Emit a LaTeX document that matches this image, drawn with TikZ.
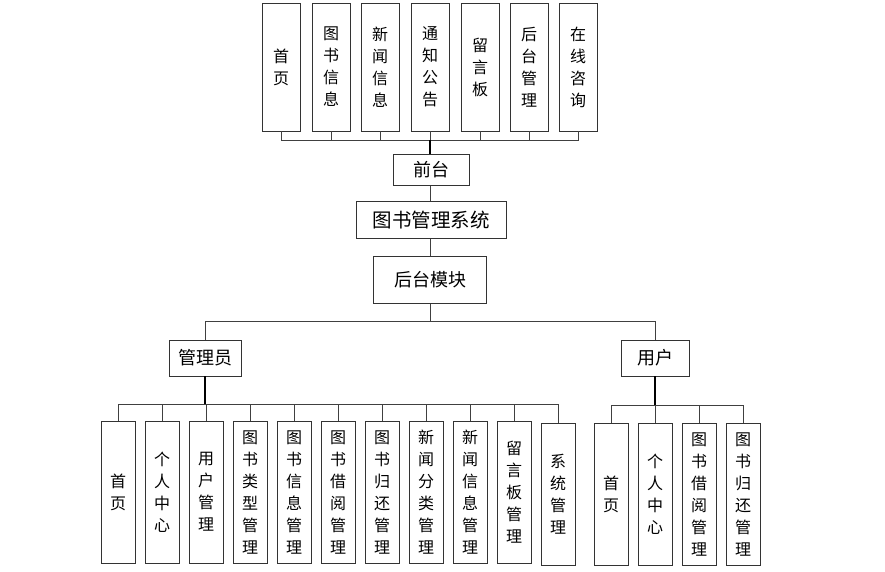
\documentclass[tikz,border=0pt]{standalone}
\usepackage{fontspec}
\newfontfamily\cjk{Noto Sans CJK SC}
\usepackage{tikz}
\usetikzlibrary{positioning,calc}

\begin{document}
\begin{tikzpicture}[
        x=1pt, y=-1pt,
        font=\cjk,
        % Block styles
        tallbox/.style={
            rectangle,
            draw=black!80,
            thick,
            inner sep=0pt,
            minimum width=#1,
            align=center,
            font=\cjk\fontsize{16}{22}\selectfont
        },
        topbox/.style={tallbox=38pt, minimum height=128pt},
        subbox/.style={tallbox=34pt, minimum height=142pt},
        headbox/.style={
            rectangle,
            draw=black!80,
            thick,
            inner sep=0pt,
            align=center,
            font=\cjk\fontsize{18}{20}\selectfont
        },
        link/.style={draw=black!75, line width=0.8pt},
        trunk/.style={draw=black, line width=1.6pt}
    ]
    \useasboundingbox (0,0) rectangle (885,571);

    % Front pages
    \node[topbox] (fhome) at (281,67) {首\\页};
    \node[topbox] (fbook) at (331,67) {图\\书\\信\\息};
    \node[topbox] (fnews) at (380,67) {新\\闻\\信\\息};
    \node[topbox] (fnotice) at (430,67) {通\\知\\公\\告};
    \node[topbox] (fboard) at (480,67) {留\\言\\板};
    \node[topbox] (fadmin) at (529,67) {后\\台\\管\\理};
    \node[topbox] (fchat) at (578,67) {在\\线\\咨\\询};

    % Main chain
    \node[headbox, minimum width=76pt, minimum height=31pt] (front) at (431,170) {前台};
    \node[headbox, minimum width=150pt, minimum height=37pt, font=\cjk\fontsize{19.5}{22}\selectfont] (system) at (431,220) {图书管理系统};
    \node[headbox, minimum width=113pt, minimum height=47pt] (back) at (430,280) {后台模块};

    % Roles
    \node[headbox, minimum width=72pt, minimum height=36pt] (admin) at (205,358) {管理员};
    \node[headbox, minimum width=68pt, minimum height=36pt] (user) at (655,358) {用户};

    % Admin pages
    \node[subbox] (ahome) at (118,492) {首\\页};
    \node[subbox] (acenter) at (162,492) {个\\人\\中\\心};
    \node[subbox] (auser) at (206,492) {用\\户\\管\\理};
    \node[subbox] (atype) at (250,492) {图\\书\\类\\型\\管\\理};
    \node[subbox] (abook) at (294,492) {图\\书\\信\\息\\管\\理};
    \node[subbox] (aborrow) at (338,492) {图\\书\\借\\阅\\管\\理};
    \node[subbox] (areturn) at (382,492) {图\\书\\归\\还\\管\\理};
    \node[subbox] (anewstype) at (426,492) {新\\闻\\分\\类\\管\\理};
    \node[subbox] (anews) at (470,492) {新\\闻\\信\\息\\管\\理};
    \node[subbox] (aboard) at (514,492) {留\\言\\板\\管\\理};
    \node[subbox] (asys) at (558,494) {系\\统\\管\\理};

    % User pages
    \node[subbox] (uhome) at (611,494) {首\\页};
    \node[subbox] (ucenter) at (655,494) {个\\人\\中\\心};
    \node[subbox] (uborrow) at (699,494) {图\\书\\借\\阅\\管\\理};
    \node[subbox] (ureturn) at (743,494) {图\\书\\归\\还\\管\\理};

    % Bus points
    \coordinate (busF) at (430,140);
    \coordinate (busB) at (430,321);
    \coordinate (busA) at (205,404);
    \coordinate (busU) at (655,405);

    % Connections
    \draw[link] (fhome.south) |- (busF);
    \draw[link] (fbook.south) |- (busF);
    \draw[link] (fnews.south) |- (busF);
    \draw[link] (fnotice.south) |- (busF);
    \draw[link] (fboard.south) |- (busF);
    \draw[link] (fadmin.south) |- (busF);
    \draw[link] (fchat.south) |- (busF);
    \draw[trunk] (busF) -- (front.north -| busF);

    \draw[link] (front.south -| busF) -- (system.north -| busF);
    \draw[link] (system.south -| busF) -- (back.north -| busF);
    \draw[link] (back.south -| busF) -- (busB);
    \draw[link] (busB) -| (admin.north);
    \draw[link] (busB) -| (user.north);

    \draw[link] (ahome.north) |- (busA);
    \draw[link] (acenter.north) |- (busA);
    \draw[link] (auser.north) |- (busA);
    \draw[link] (atype.north) |- (busA);
    \draw[link] (abook.north) |- (busA);
    \draw[link] (aborrow.north) |- (busA);
    \draw[link] (areturn.north) |- (busA);
    \draw[link] (anewstype.north) |- (busA);
    \draw[link] (anews.north) |- (busA);
    \draw[link] (aboard.north) |- (busA);
    \draw[link] (asys.north) |- (busA);
    \draw[trunk] (admin.south) -- (busA);

    \draw[link] (uhome.north) |- (busU);
    \draw[link] (ucenter.north) |- (busU);
    \draw[link] (uborrow.north) |- (busU);
    \draw[link] (ureturn.north) |- (busU);
    \draw[trunk] (user.south) -- (busU);

\end{tikzpicture}
\end{document}
